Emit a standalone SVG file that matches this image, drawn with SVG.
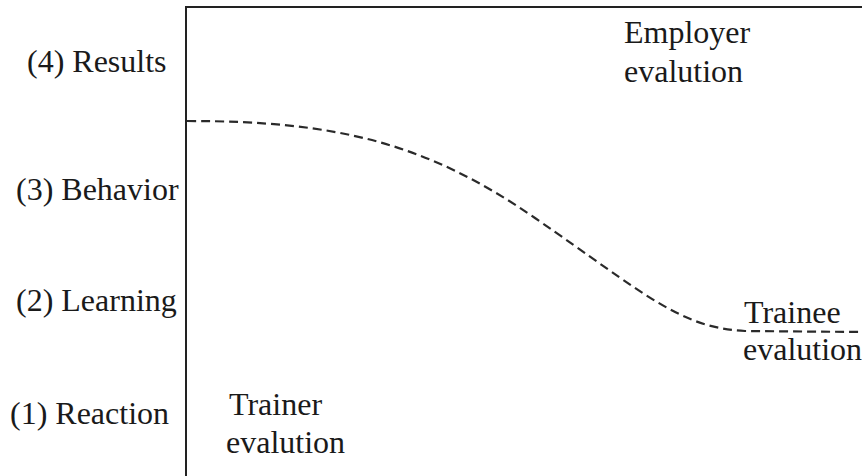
<svg xmlns="http://www.w3.org/2000/svg" width="862" height="476" viewBox="0 0 862 476">
<style>
.t{font-family:'Liberation Serif','Times New Roman','DejaVu Serif',serif;font-size:32px;fill:#1a1a1a}
.axis{fill:none;stroke:#222;stroke-width:2}
.curve{fill:none;stroke:#2a2a2a;stroke-width:2.2;stroke-dasharray:9 5}
</style>
<rect width="862" height="476" fill="#fff"/>
<g id="frame"><path class="axis" d="M186,476 V7 H862"/></g>
<g id="levels" class="t">
<text x="27" y="72">(4) Results</text>
<text x="16" y="200">(3) Behavior</text>
<text x="16" y="311">(2) Learning</text>
<text x="10" y="424">(1) Reaction</text>
</g>
<g id="connectors"><path class="curve" d="M187,121 C335,121 425,142 535,218 S680,328 745,331 L862,332"/></g>
<g id="employer" class="t"><text x="624" y="43">Employer</text><text x="624" y="82">evalution</text></g>
<g id="trainee" class="t"><text x="744" y="323">Trainee</text><text x="743" y="360">evalution</text></g>
<g id="trainer" class="t"><text x="229" y="415">Trainer</text><text x="226" y="453">evalution</text></g>
</svg>
